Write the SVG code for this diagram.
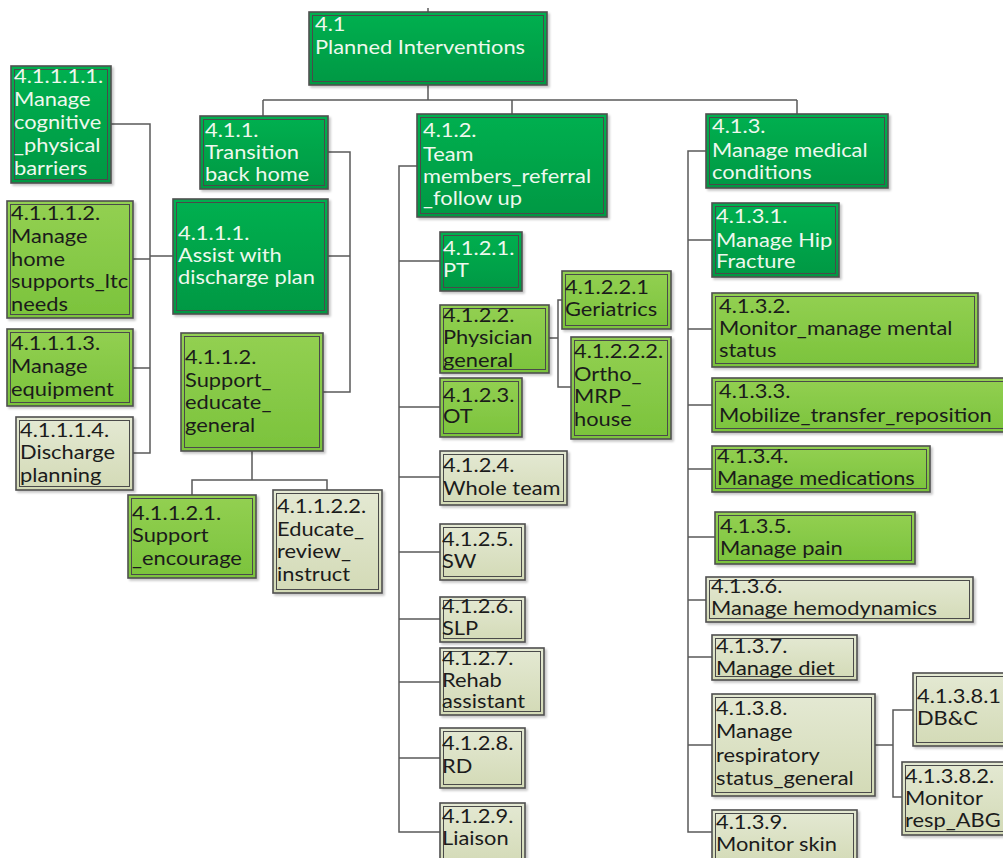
<svg xmlns="http://www.w3.org/2000/svg" width="1003" height="858" viewBox="0 0 1003 858">
  <defs>
    <linearGradient id="gDark" x1="0" y1="0" x2="0" y2="1">
      <stop offset="0" stop-color="#00b050"/>
      <stop offset="1" stop-color="#009843"/>
    </linearGradient>
    <linearGradient id="gLight" x1="0" y1="0" x2="0" y2="1">
      <stop offset="0" stop-color="#93d052"/>
      <stop offset="1" stop-color="#7bc33c"/>
    </linearGradient>
    <linearGradient id="gBeige" x1="0" y1="0" x2="0" y2="1">
      <stop offset="0" stop-color="#e4e9d3"/>
      <stop offset="1" stop-color="#d3dab6"/>
    </linearGradient>
    <filter id="shadow" x="-10%" y="-10%" width="130%" height="130%">
      <feDropShadow dx="2" dy="2" stdDeviation="1.2" flood-color="#000" flood-opacity="0.22"/>
    </filter>
  </defs>
  <style>
    .node .o { stroke: #4f4f4f; stroke-width: 1.6; filter: url(#shadow); }
    .node .i { fill: none; stroke: #4a4a4a; stroke-width: 1; }
    .dark .o { fill: url(#gDark); }
    .light .o { fill: url(#gLight); }
    .beige .o { fill: url(#gBeige); }
    .node text { font-family: Lato, "Open Sans", "Liberation Sans", sans-serif; font-size: 19px; }
    .dark text { fill: #eef8ee; }
    .light text, .beige text { fill: #1b1b1b; }
    .conn path { fill: none; stroke: #5a5a5a; stroke-width: 1.5; }
  </style>

  <rect width="1003" height="858" fill="#ffffff"/>

  <!-- connectors -->
  <g class="conn">
    <path d="M428 8V12"/>
    <path d="M428 85V100M263 100H797M263 100V116M512 100V114M797 100V114"/>
    <!-- 4.1.1 branch -->
    <path d="M328 152H350V392H323M328 256H350"/>
    <path d="M173 256H150M111 124H150V453H133M133 259H150M133 368H150"/>
    <path d="M252 451V480M192 495V480H327V490"/>
    <!-- 4.1.2 branch -->
    <path d="M417 166H399V832H440M399 261H440M399 407H440M399 477H440M399 552H440M399 619H440M399 682H440M399 758H440"/>
    <path d="M549 338H558M563 300H558V387H571"/>
    <!-- 4.1.3 branch -->
    <path d="M706 151H688V832H712M688 240H712M688 329H712M688 405H712M688 469H712M688 537H715M688 600H706M688 657H712M688 745H712"/>
    <path d="M875 745H893M913 710H893V797H902"/>
  </g>

  <g id="n4-1" class="node dark">
    <rect class="o" x="309" y="12" width="238" height="73"/>
    <rect class="i" x="312.5" y="15.5" width="231" height="66"/>
    <text transform="translate(315 0) scale(1.15 1)"><tspan x="0" y="31">4.1</tspan><tspan x="0" y="54">Planned Interventions</tspan></text>
  </g>

  <g id="n4-1-1" class="node dark">
    <rect class="o" x="200" y="116" width="128" height="73"/>
    <rect class="i" x="203.5" y="119.5" width="121" height="66"/>
    <text transform="translate(205 0) scale(1.15 1)"><tspan x="0" y="137">4.1.1.</tspan><tspan x="0" y="159">Transition</tspan><tspan x="0" y="181">back home</tspan></text>
  </g>

  <g id="n4-1-1-1" class="node dark">
    <rect class="o" x="173" y="199" width="155" height="115"/>
    <rect class="i" x="176.5" y="202.5" width="148" height="108"/>
    <text transform="translate(178 0) scale(1.15 1)"><tspan x="0" y="240">4.1.1.1.</tspan><tspan x="0" y="262">Assist with</tspan><tspan x="0" y="284">discharge plan</tspan></text>
  </g>

  <g id="n4-1-1-1-1" class="node dark">
    <rect class="o" x="11" y="66" width="100" height="117"/>
    <rect class="i" x="14.5" y="69.5" width="93" height="110"/>
    <text transform="translate(14 0) scale(1.15 1)"><tspan x="0" y="83">4.1.1.1.1.</tspan><tspan x="0" y="106">Manage</tspan><tspan x="0" y="129">cognitive</tspan><tspan x="0" y="152">_physical</tspan><tspan x="0" y="175">barriers</tspan></text>
  </g>

  <g id="n4-1-1-1-2" class="node light">
    <rect class="o" x="7" y="201" width="126" height="117"/>
    <rect class="i" x="10.5" y="204.5" width="119" height="110"/>
    <text transform="translate(11 0) scale(1.15 1)"><tspan x="0" y="220">4.1.1.1.2.</tspan><tspan x="0" y="243">Manage</tspan><tspan x="0" y="266">home</tspan><tspan x="0" y="288">supports_ltc</tspan><tspan x="0" y="311">needs</tspan></text>
  </g>

  <g id="n4-1-1-1-3" class="node light">
    <rect class="o" x="7" y="329" width="126" height="77"/>
    <rect class="i" x="10.5" y="332.5" width="119" height="70"/>
    <text transform="translate(11 0) scale(1.15 1)"><tspan x="0" y="350">4.1.1.1.3.</tspan><tspan x="0" y="373">Manage</tspan><tspan x="0" y="396">equipment</tspan></text>
  </g>

  <g id="n4-1-1-1-4" class="node beige">
    <rect class="o" x="16" y="417" width="117" height="73"/>
    <rect class="i" x="19.5" y="420.5" width="110" height="66"/>
    <text transform="translate(20 0) scale(1.15 1)"><tspan x="0" y="437">4.1.1.1.4.</tspan><tspan x="0" y="459">Discharge</tspan><tspan x="0" y="482">planning</tspan></text>
  </g>

  <g id="n4-1-1-2" class="node light">
    <rect class="o" x="181" y="333" width="142" height="118"/>
    <rect class="i" x="184.5" y="336.5" width="135" height="111"/>
    <text transform="translate(185 0) scale(1.15 1)"><tspan x="0" y="364">4.1.1.2.</tspan><tspan x="0" y="387">Support_</tspan><tspan x="0" y="409">educate_</tspan><tspan x="0" y="432">general</tspan></text>
  </g>

  <g id="n4-1-1-2-1" class="node light">
    <rect class="o" x="128" y="495" width="128" height="83"/>
    <rect class="i" x="131.5" y="498.5" width="121" height="76"/>
    <text transform="translate(132 0) scale(1.15 1)"><tspan x="0" y="520">4.1.1.2.1.</tspan><tspan x="0" y="542">Support</tspan><tspan x="0" y="565">_encourage</tspan></text>
  </g>

  <g id="n4-1-1-2-2" class="node beige">
    <rect class="o" x="273" y="490" width="109" height="103"/>
    <rect class="i" x="276.5" y="493.5" width="102" height="96"/>
    <text transform="translate(277 0) scale(1.15 1)"><tspan x="0" y="513">4.1.1.2.2.</tspan><tspan x="0" y="536">Educate_</tspan><tspan x="0" y="558">review_</tspan><tspan x="0" y="581">instruct</tspan></text>
  </g>

  <g id="n4-1-2" class="node dark">
    <rect class="o" x="417" y="114" width="190" height="103"/>
    <rect class="i" x="420.5" y="117.5" width="183" height="96"/>
    <text transform="translate(423 0) scale(1.15 1)"><tspan x="0" y="137">4.1.2.</tspan><tspan x="0" y="161">Team</tspan><tspan x="0" y="183">members_referral</tspan><tspan x="0" y="205">_follow up</tspan></text>
  </g>

  <g id="n4-1-2-1" class="node dark">
    <rect class="o" x="440" y="232" width="82" height="59"/>
    <rect class="i" x="443.5" y="235.5" width="75" height="52"/>
    <text transform="translate(443 0) scale(1.15 1)"><tspan x="0" y="255">4.1.2.1.</tspan><tspan x="0" y="277">PT</tspan></text>
  </g>

  <g id="n4-1-2-2" class="node light">
    <rect class="o" x="440" y="305" width="109" height="68"/>
    <rect class="i" x="443.5" y="308.5" width="102" height="61"/>
    <text transform="translate(443 0) scale(1.15 1)"><tspan x="0" y="322">4.1.2.2.</tspan><tspan x="0" y="344">Physician</tspan><tspan x="0" y="367">general</tspan></text>
  </g>

  <g id="n4-1-2-2-1" class="node light">
    <rect class="o" x="562" y="271" width="109" height="58"/>
    <rect class="i" x="565.5" y="274.5" width="102" height="51"/>
    <text transform="translate(565 0) scale(1.15 1)"><tspan x="0" y="294">4.1.2.2.1</tspan><tspan x="0" y="316">Geriatrics</tspan></text>
  </g>

  <g id="n4-1-2-2-2" class="node light">
    <rect class="o" x="571" y="337" width="100" height="102"/>
    <rect class="i" x="574.5" y="340.5" width="93" height="95"/>
    <text transform="translate(574 0) scale(1.15 1)"><tspan x="0" y="358">4.1.2.2.2.</tspan><tspan x="0" y="381">Ortho_</tspan><tspan x="0" y="403">MRP_</tspan><tspan x="0" y="426">house</tspan></text>
  </g>

  <g id="n4-1-2-3" class="node light">
    <rect class="o" x="440" y="378" width="82" height="59"/>
    <rect class="i" x="443.5" y="381.5" width="75" height="52"/>
    <text transform="translate(443 0) scale(1.15 1)"><tspan x="0" y="402">4.1.2.3.</tspan><tspan x="0" y="423">OT</tspan></text>
  </g>

  <g id="n4-1-2-4" class="node beige">
    <rect class="o" x="440" y="451" width="127" height="54"/>
    <rect class="i" x="443.5" y="454.5" width="120" height="47"/>
    <text transform="translate(443 0) scale(1.15 1)"><tspan x="0" y="472">4.1.2.4.</tspan><tspan x="0" y="495">Whole team</tspan></text>
  </g>

  <g id="n4-1-2-5" class="node beige">
    <rect class="o" x="440" y="524" width="85" height="56"/>
    <rect class="i" x="443.5" y="527.5" width="78" height="49"/>
    <text transform="translate(442 0) scale(1.15 1)"><tspan x="0" y="546">4.1.2.5.</tspan><tspan x="0" y="568">SW</tspan></text>
  </g>

  <g id="n4-1-2-6" class="node beige">
    <rect class="o" x="440" y="597" width="85" height="45"/>
    <rect class="i" x="443.5" y="600.5" width="78" height="38"/>
    <text transform="translate(442 0) scale(1.15 1)"><tspan x="0" y="613">4.1.2.6.</tspan><tspan x="0" y="635">SLP</tspan></text>
  </g>

  <g id="n4-1-2-7" class="node beige">
    <rect class="o" x="440" y="648" width="104" height="67"/>
    <rect class="i" x="443.5" y="651.5" width="97" height="60"/>
    <text transform="translate(442 0) scale(1.15 1)"><tspan x="0" y="665">4.1.2.7.</tspan><tspan x="0" y="687">Rehab</tspan><tspan x="0" y="708">assistant</tspan></text>
  </g>

  <g id="n4-1-2-8" class="node beige">
    <rect class="o" x="440" y="728" width="85" height="60"/>
    <rect class="i" x="443.5" y="731.5" width="78" height="53"/>
    <text transform="translate(442 0) scale(1.15 1)"><tspan x="0" y="750">4.1.2.8.</tspan><tspan x="0" y="773">RD</tspan></text>
  </g>

  <g id="n4-1-2-9" class="node beige">
    <rect class="o" x="440" y="803" width="85" height="62"/>
    <rect class="i" x="443.5" y="806.5" width="78" height="55"/>
    <text transform="translate(442 0) scale(1.15 1)"><tspan x="0" y="823">4.1.2.9.</tspan><tspan x="0" y="845">Liaison</tspan></text>
  </g>

  <g id="n4-1-3" class="node dark">
    <rect class="o" x="706" y="114" width="182" height="74"/>
    <rect class="i" x="709.5" y="117.5" width="175" height="67"/>
    <text transform="translate(712 0) scale(1.15 1)"><tspan x="0" y="133">4.1.3.</tspan><tspan x="0" y="157">Manage medical</tspan><tspan x="0" y="179">conditions</tspan></text>
  </g>

  <g id="n4-1-3-1" class="node dark">
    <rect class="o" x="712" y="203" width="127" height="74"/>
    <rect class="i" x="715.5" y="206.5" width="120" height="67"/>
    <text transform="translate(716 0) scale(1.15 1)"><tspan x="0" y="223">4.1.3.1.</tspan><tspan x="0" y="247">Manage Hip</tspan><tspan x="0" y="268">Fracture</tspan></text>
  </g>

  <g id="n4-1-3-2" class="node light">
    <rect class="o" x="712" y="293" width="266" height="74"/>
    <rect class="i" x="715.5" y="296.5" width="259" height="67"/>
    <text transform="translate(719 0) scale(1.15 1)"><tspan x="0" y="313">4.1.3.2.</tspan><tspan x="0" y="335">Monitor_manage mental</tspan><tspan x="0" y="357">status</tspan></text>
  </g>

  <g id="n4-1-3-3" class="node light">
    <rect class="o" x="712" y="378" width="300" height="54"/>
    <rect class="i" x="715.5" y="381.5" width="293" height="47"/>
    <text transform="translate(719 0) scale(1.15 1)"><tspan x="0" y="398">4.1.3.3.</tspan><tspan x="0" y="422">Mobilize_transfer_reposition</tspan></text>
  </g>

  <g id="n4-1-3-4" class="node light">
    <rect class="o" x="712" y="446" width="218" height="46"/>
    <rect class="i" x="715.5" y="449.5" width="211" height="39"/>
    <text transform="translate(717 0) scale(1.15 1)"><tspan x="0" y="463">4.1.3.4.</tspan><tspan x="0" y="485">Manage medications</tspan></text>
  </g>

  <g id="n4-1-3-5" class="node light">
    <rect class="o" x="715" y="512" width="200" height="52"/>
    <rect class="i" x="718.5" y="515.5" width="193" height="45"/>
    <text transform="translate(720 0) scale(1.15 1)"><tspan x="0" y="533">4.1.3.5.</tspan><tspan x="0" y="555">Manage pain</tspan></text>
  </g>

  <g id="n4-1-3-6" class="node beige">
    <rect class="o" x="706" y="577" width="267" height="45"/>
    <rect class="i" x="709.5" y="580.5" width="260" height="38"/>
    <text transform="translate(711 0) scale(1.15 1)"><tspan x="0" y="593">4.1.3.6.</tspan><tspan x="0" y="615">Manage hemodynamics</tspan></text>
  </g>

  <g id="n4-1-3-7" class="node beige">
    <rect class="o" x="712" y="635" width="145" height="45"/>
    <rect class="i" x="715.5" y="638.5" width="138" height="38"/>
    <text transform="translate(716 0) scale(1.15 1)"><tspan x="0" y="653">4.1.3.7.</tspan><tspan x="0" y="675">Manage diet</tspan></text>
  </g>

  <g id="n4-1-3-8" class="node beige">
    <rect class="o" x="712" y="694" width="163" height="102"/>
    <rect class="i" x="715.5" y="697.5" width="156" height="95"/>
    <text transform="translate(716 0) scale(1.15 1)"><tspan x="0" y="715">4.1.3.8.</tspan><tspan x="0" y="738">Manage</tspan><tspan x="0" y="762">respiratory</tspan><tspan x="0" y="785">status_general</tspan></text>
  </g>

  <g id="n4-1-3-8-1" class="node beige">
    <rect class="o" x="913" y="673" width="100" height="73"/>
    <rect class="i" x="916.5" y="676.5" width="93" height="66"/>
    <text transform="translate(917 0) scale(1.15 1)"><tspan x="0" y="703">4.1.3.8.1</tspan><tspan x="0" y="725">DB&amp;C</tspan></text>
  </g>

  <g id="n4-1-3-8-2" class="node beige">
    <rect class="o" x="902" y="762" width="110" height="73"/>
    <rect class="i" x="905.5" y="765.5" width="103" height="66"/>
    <text transform="translate(905 0) scale(1.15 1)"><tspan x="0" y="783">4.1.3.8.2.</tspan><tspan x="0" y="805">Monitor</tspan><tspan x="0" y="827">resp_ABG</tspan></text>
  </g>

  <g id="n4-1-3-9" class="node beige">
    <rect class="o" x="712" y="810" width="145" height="55"/>
    <rect class="i" x="715.5" y="813.5" width="138" height="48"/>
    <text transform="translate(716 0) scale(1.15 1)"><tspan x="0" y="829">4.1.3.9.</tspan><tspan x="0" y="851">Monitor skin</tspan></text>
  </g>
</svg>
